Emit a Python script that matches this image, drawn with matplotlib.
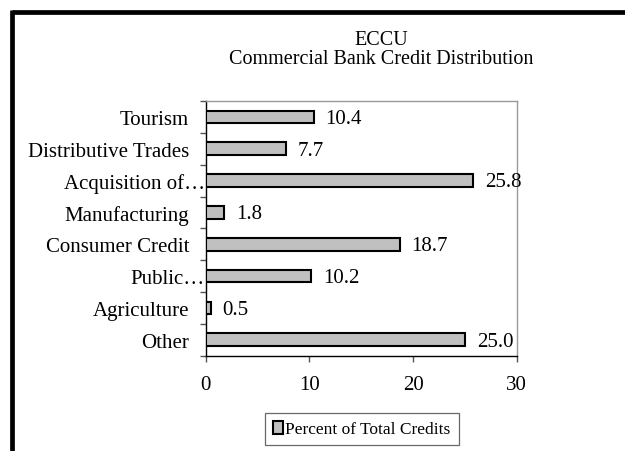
import matplotlib
matplotlib.use('Agg')
import matplotlib.pyplot as plt
import matplotlib.transforms as mtransforms
from matplotlib.patches import Rectangle

# data, top to bottom as in the chart
categories = ['Tourism', 'Distributive Trades', 'Acquisition of\u2026', 'Manufacturing',
              'Consumer Credit', 'Public\u2026', 'Agriculture', 'Other']
values = [10.4, 7.7, 25.8, 1.8, 18.7, 10.2, 0.5, 25.0]
value_labels = ['10.4', '7.7', '25.8', '1.8', '18.7', '10.2', '0.5', '25.0']
x_ticks = [0, 10, 20, 30]
series_name = 'Percent of Total Credits'

plt.rcParams['font.family'] = ['Liberation Serif', 'DejaVu Serif']

fig = plt.figure(figsize=(6.25, 4.52), dpi=100)
W, H = 625, 452

# thick outer frame (clipped at right / bottom like the original)
fig.add_artist(plt.Line2D([12/W, 1.0], [1 - 13/H, 1 - 13/H], color='black', lw=3.4,
                          transform=fig.transFigure, solid_capstyle='butt'))
fig.add_artist(plt.Line2D([12/W, 12/W], [0.0, 1 - 11/H], color='black', lw=3.4,
                          transform=fig.transFigure, solid_capstyle='butt'))

fig.text(381/W, 1 - 45/H, 'ECCU', ha='center', va='baseline', fontsize=14.5)
fig.text(381/W, 1 - 64/H, 'Commercial Bank Credit Distribution', ha='center', va='baseline', fontsize=14.5)

ax = fig.add_axes([205.7/W, 1 - 356.7/H, (516.7 - 205.7)/W, (356.7 - 102)/H])
ypos = list(range(len(categories)))
bars = ax.barh(ypos, values, height=0.4, color='#C0C0C0', edgecolor='black', linewidth=1.5,
               label=series_name, zorder=3)

for b, txt in zip(bars, value_labels):
    ax.annotate(txt, (b.get_width(), b.get_y() + b.get_height() / 2), xytext=(8.5, -1),
                textcoords='offset points', ha='left', va='center', fontsize=15,
                annotation_clip=False, zorder=4)

ax.set_xlim(0, 30)
ax.set_ylim(len(categories) - 0.5, -0.5)
ax.set_xticks(x_ticks)
ax.set_xticklabels([str(t) for t in x_ticks], fontsize=15)
ax.tick_params(axis='x', direction='out', length=4, width=1, pad=10, color='#555555')

# category boundaries carry the tick marks, centres carry the labels
ax.set_yticks([i - 0.5 for i in range(len(categories) + 1)])
ax.set_yticklabels([])
ax.tick_params(axis='y', which='major', direction='out', length=4, width=1, color='#555555')
ax.set_yticks(ypos, minor=True)
ax.set_yticklabels(categories, minor=True, fontsize=15)
ax.tick_params(axis='y', which='minor', length=0, pad=12)

for lab in ax.get_yticklabels(minor=True):
    if lab.get_text().endswith('\u2026'):
        lab.set_transform(lab.get_transform() +
                          mtransforms.ScaledTranslation(0.16, 0, fig.dpi_scale_trans))

for s in ['left', 'bottom']:
    ax.spines[s].set_color('black')
    ax.spines[s].set_linewidth(1.0)
for s in ['top', 'right']:
    ax.spines[s].set_color('#999999')
    ax.spines[s].set_linewidth(1.0)

leg = fig.legend(handles=[Rectangle((0, 0), 1, 1, facecolor='#C0C0C0', edgecolor='black', lw=1.5)],
                 labels=[series_name], loc='center', bbox_to_anchor=(362/W, 1 - 430/H),
                 fontsize=12.5, frameon=True, fancybox=False, handlelength=0.55, handleheight=0.75,
                 handletextpad=0.15, borderpad=0.45, borderaxespad=0)
leg.get_frame().set_edgecolor('#444444')
leg.get_frame().set_linewidth(0.9)

fig.savefig('out.png', dpi=100)
